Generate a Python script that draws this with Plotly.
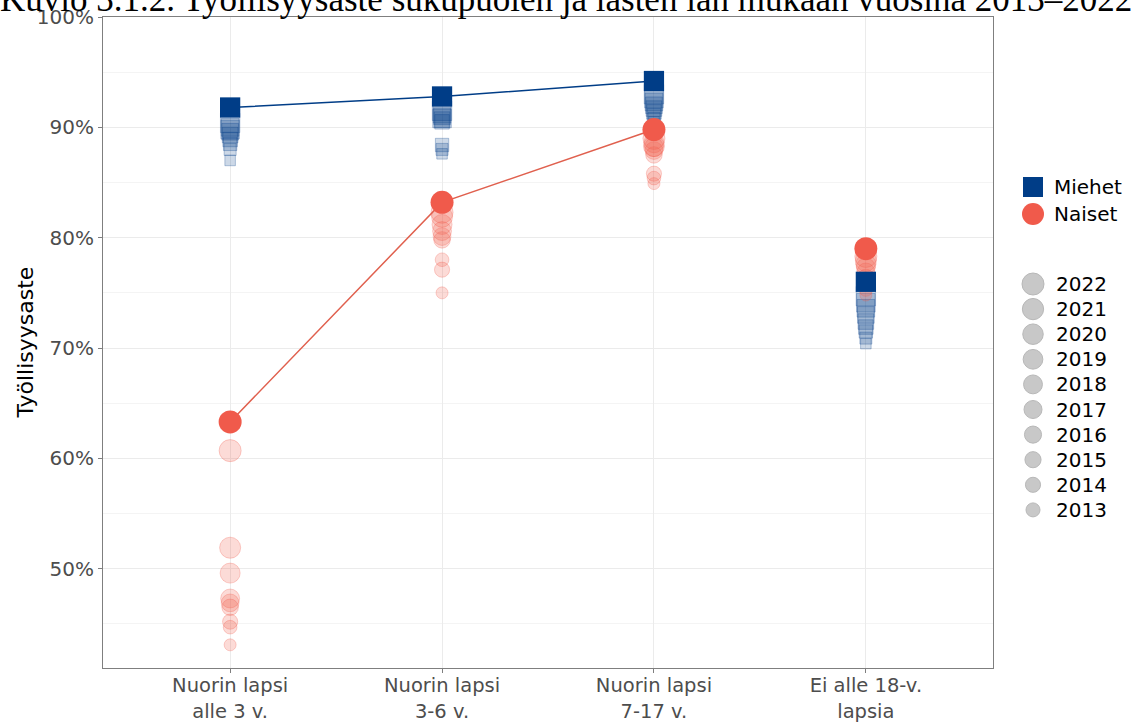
import plotly.graph_objects as go

# ---------------- data ----------------
years = [2013, 2014, 2015, 2016, 2017, 2018, 2019, 2020, 2021, 2022]
categories = ["Nuorin lapsi<br>alle 3 v.", "Nuorin lapsi<br>3-6 v.",
              "Nuorin lapsi<br>7-17 v.", "Ei alle 18-v.<br>lapsia"]

men_alle3 = [87.0, 88.0, 88.5, 88.9, 89.3, 89.6, 90.0, 89.8, 90.4, 91.8]
men_3_6 = [87.6, 88.0, 88.4, 90.5, 90.7, 91.0, 91.2, 90.8, 91.5, 92.8]
men_7_17 = [90.5, 90.8, 91.1, 91.4, 91.7, 92.0, 92.3, 92.6, 93.0, 94.2]
men_ei = [70.4, 70.9, 71.5, 71.9, 72.4, 73.0, 73.6, 74.1, 74.7, 76.0]

women_alle3 = [43.1, 44.7, 45.2, 46.5, 46.9, 47.3, 49.6, 51.9, 60.7, 63.3]
women_3_6 = [75.0, 78.0, 77.1, 79.8, 80.1, 80.6, 81.2, 81.9, 82.3, 83.2]
women_7_17 = [84.9, 85.4, 85.8, 87.5, 87.9, 88.2, 88.6, 88.3, 89.0, 89.8]
women_ei = [74.8, 75.3, 75.9, 76.4, 76.9, 77.3, 77.6, 77.9, 78.3, 79.0]

y_tickvals = [50, 60, 70, 80, 90, 100]
y_ticktext = ["50%", "60%", "70%", "80%", "90%", "100%"]

title_text = "Kuvio 3.1.2. Työllisyysaste sukupuolen ja lasten iän mukaan vuosina 2013–2022"
y_title = "Työllisyysaste"
men_name = "Miehet"
women_name = "Naiset"

# ---------------- styles / layout ----------------
NAVY = "#003D87"
RED = "#F05A4B"
FONT = "DejaVu Sans, Liberation Sans, Arial, sans-serif"
W, H = 1132, 725
ML, MR, MT, MB = 103, 139, 17, 57
PW, PH = W - ML - MR, H - MT - MB


def circle_size(year):
    d0, d1 = 12.0, 23.0
    t = (year - years[0]) / (years[-1] - years[0])
    return (d0 ** 2 + (d1 ** 2 - d0 ** 2) * t) ** 0.5


def legend_size(year):
    d0, d1 = 14.0, 22.0
    t = (year - years[0]) / (years[-1] - years[0])
    return (d0 ** 2 + (d1 ** 2 - d0 ** 2) * t) ** 0.5


def px_x(px):
    return (px - ML) / PW


def px_y(py):
    return 1 - (py - MT) / PH


men_series = [men_alle3, men_3_6, men_7_17, men_ei]
women_series = [women_alle3, women_3_6, women_7_17, women_ei]

fig = go.Figure()

# faded earlier years
for i, yr in enumerate(years[:-1]):
    fig.add_trace(go.Scatter(
        x=categories, y=[s[i] for s in men_series], mode="markers",
        marker=dict(symbol="square", size=circle_size(yr) * 0.88,
                    color="rgba(0,61,135,0.20)",
                    line=dict(color="rgba(0,61,135,0.28)", width=1)),
        showlegend=False, hoverinfo="skip"))
for i, yr in enumerate(years[:-1]):
    fig.add_trace(go.Scatter(
        x=categories, y=[s[i] for s in women_series], mode="markers",
        marker=dict(symbol="circle", size=circle_size(yr),
                    color="rgba(240,90,75,0.22)",
                    line=dict(color="rgba(240,90,75,0.28)", width=1)),
        showlegend=False, hoverinfo="skip"))

# connecting lines for latest year (families with children)
fig.add_trace(go.Scatter(x=categories[:3], y=[s[-1] for s in men_series[:3]],
                         mode="lines", line=dict(color=NAVY, width=1.5),
                         showlegend=False, hoverinfo="skip"))
fig.add_trace(go.Scatter(x=categories[:3], y=[s[-1] for s in women_series[:3]],
                         mode="lines", line=dict(color="#E0604E", width=1.5),
                         showlegend=False, hoverinfo="skip"))

# latest year markers
fig.add_trace(go.Scatter(x=categories, y=[s[-1] for s in men_series], mode="markers",
                         name=men_name, showlegend=False,
                         marker=dict(symbol="square", size=circle_size(years[-1]) * 0.88,
                                     color=NAVY, line=dict(width=0))))
fig.add_trace(go.Scatter(x=categories, y=[s[-1] for s in women_series], mode="markers",
                         name=women_name, showlegend=False,
                         marker=dict(symbol="circle", size=circle_size(years[-1]),
                                     color=RED, line=dict(width=0))))

# ---------------- legend (drawn as shapes + annotations) ----------------
shapes = []
annotations = []
LEG_MX, LEG_TX = 1033, 1052
leg_font = dict(family=FONT, size=20, color="#000000")

sq = 20
shapes.append(dict(type="rect", xref="paper", yref="paper",
                   xsizemode="pixel", ysizemode="pixel",
                   xanchor=px_x(LEG_MX), yanchor=px_y(187),
                   x0=-sq / 2, x1=sq / 2, y0=-sq / 2, y1=sq / 2,
                   fillcolor=NAVY, line=dict(width=0)))
annotations.append(dict(text=men_name, xref="paper", yref="paper",
                        x=px_x(LEG_TX), y=px_y(187), xanchor="left", yanchor="middle",
                        showarrow=False, font=leg_font))
cd = 22
shapes.append(dict(type="circle", xref="paper", yref="paper",
                   xsizemode="pixel", ysizemode="pixel",
                   xanchor=px_x(LEG_MX), yanchor=px_y(214),
                   x0=-cd / 2, x1=cd / 2, y0=-cd / 2, y1=cd / 2,
                   fillcolor=RED, line=dict(width=0)))
annotations.append(dict(text=women_name, xref="paper", yref="paper",
                        x=px_x(LEG_TX), y=px_y(214), xanchor="left", yanchor="middle",
                        showarrow=False, font=leg_font))

for k, yr in enumerate(reversed(years)):
    cy = 284 + k * 25.1
    d = legend_size(yr)
    shapes.append(dict(type="circle", xref="paper", yref="paper",
                       xsizemode="pixel", ysizemode="pixel",
                       xanchor=px_x(LEG_MX), yanchor=px_y(cy),
                       x0=-d / 2, x1=d / 2, y0=-d / 2, y1=d / 2,
                       fillcolor="#C8C8C8", line=dict(color="#B8B8B8", width=1)))
    annotations.append(dict(text=str(yr), xref="paper", yref="paper",
                            x=px_x(LEG_TX + 2), y=px_y(cy), xanchor="left", yanchor="middle",
                            showarrow=False, font=leg_font))

# y-axis title
annotations.append(dict(text=y_title, xref="paper", yref="paper",
                        x=px_x(25), y=0.5, xanchor="center", yanchor="middle",
                        textangle=-90, showarrow=False,
                        font=dict(family=FONT, size=22, color="#000000")))

# title (partly above the page edge, as in the source image)
annotations.append(dict(text=title_text, xref="paper", yref="paper",
                        x=0.5, y=px_y(0), xanchor="center", yanchor="middle",
                        showarrow=False,
                        font=dict(family="Liberation Serif, DejaVu Serif, serif",
                                  size=35, color="#000000"),
                        xshift=(W / 2) - (ML + PW / 2)))

fig.update_layout(
    width=W, height=H,
    margin=dict(l=ML, r=MR, t=MT, b=MB, autoexpand=False),
    paper_bgcolor="white", plot_bgcolor="white",
    font=dict(family=FONT, size=20, color="#000000"),
    showlegend=False,
    shapes=shapes,
    annotations=annotations,
)

fig.update_xaxes(
    type="category", range=[-0.6, 3.6], automargin=False,
    showgrid=True, gridcolor="#EBEBEB", gridwidth=1,
    showline=True, linecolor="#7F7F7F", linewidth=1, mirror=True,
    ticks="outside", ticklen=4, tickcolor="#7F7F7F",
    tickfont=dict(family=FONT, size=19.5, color="#4D4D4D"),
    ticklabelstandoff=-4,
    zeroline=False,
)
fig.update_yaxes(
    range=[41.0, 100.0], automargin=False,
    tickvals=y_tickvals, ticktext=y_ticktext,
    showgrid=True, gridcolor="#EBEBEB", gridwidth=1,
    minor=dict(dtick=5, tick0=45, showgrid=True, gridcolor="#F4F4F4", gridwidth=1),
    showline=True, linecolor="#7F7F7F", linewidth=1, mirror=True,
    ticks="outside", ticklen=4, tickcolor="#7F7F7F",
    tickfont=dict(family=FONT, size=20, color="#4D4D4D"),
    zeroline=False,
)

fig.write_html("out.html", config={"displayModeBar": False},
               post_script="document.body.style.margin='0';document.body.style.padding='0';")
